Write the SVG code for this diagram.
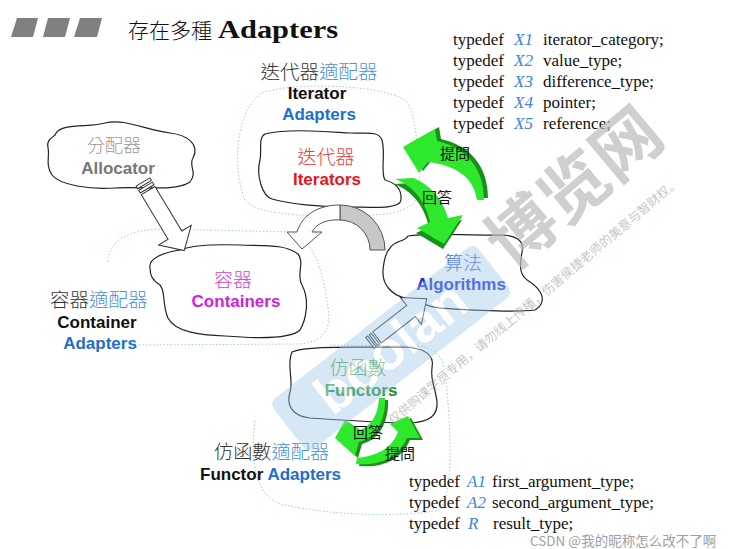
<svg xmlns="http://www.w3.org/2000/svg" width="735" height="549" viewBox="0 0 735 549">
<style>
.cloud{fill:none;stroke:#222;stroke-width:1.2}
.dot{fill:none;stroke:#9fcfcf;stroke-width:1;stroke-dasharray:1.5 2}
.cjk{font-family:"Noto Sans CJK TC","Noto Sans CJK SC",sans-serif;font-weight:300}
.en{font-family:"Liberation Sans",Arial,sans-serif;font-weight:bold;font-size:17px}
.td{font-family:"Liberation Serif","Times New Roman",serif;font-size:17px;fill:#111}
.x{font-style:italic;fill:#3a86e0}
.blk{fill:#fff;stroke:#333;stroke-width:1}
.lg{fill:#2ee82e}
.dg{fill:#1a8f1a}
.q{font-family:"Noto Sans CJK TC",sans-serif;font-size:15px;fill:#111}
.mid{text-anchor:middle}
.g1{fill:#333}
.b1{fill:#4a90d9}
.blue{fill:#1e6fcc}
</style>

<!-- title -->
<g id="title">
  <polygon points="11,37 17,18 38,18 33,37" fill="#808080"/>
  <polygon points="43,37 48,18 70,18 65,37" fill="#808080"/>
  <polygon points="74,37 80,18 102,18 97,37" fill="#808080"/>
  <text x="128" y="38" class="cjk" font-size="21" font-weight="400" fill="#111">存在多種</text>
  <text x="218" y="38" font-family="Liberation Serif,serif" font-weight="bold" font-size="26" fill="#111" textLength="120" lengthAdjust="spacingAndGlyphs">Adapters</text>
</g>

<!-- dotted adapter regions -->
<g id="regions">
  <path class="dot" d="M245 200 C232 170,235 110,262 93 C290 82,380 84,405 100 C418 115,418 160,420 185 C420 205,405 214,370 215 C320 216,260 218,245 200 Z"/>
  <path class="dot" d="M108 262 C108 240,130 229,165 229 L290 232 C312 240,320 262,326 295 C332 325,330 340,300 344 L137 345"/>
  <path class="dot" d="M330 345 L420 346 C440 350,444 360,446 380 C450 420,455 490,440 510 C400 518,330 515,285 505 C255 500,250 460,255 420"/>
</g>

<!-- nodes -->
<g id="allocator">
  <path class="cloud" d="M55 135 C60 122,90 128,105 123 C125 118,145 130,170 133 C188 135,200 145,193 158 C188 166,198 172,190 182 C175 192,140 186,115 188 C90 190,60 185,52 175 C45 165,50 155,48 148 C46 140,52 138,55 135 Z"/>
  <text x="114" y="152" class="cjk mid" font-size="18" fill="#999">分配器</text>
  <text x="118" y="174" class="en mid" fill="#777">Allocator</text>
</g>

<g id="iterator-adapters">
  <text x="319" y="79" class="cjk mid" font-size="19.5"><tspan class="g1">迭代器</tspan><tspan class="b1">適配器</tspan></text>
  <text x="317" y="99" class="en mid" fill="#111">Iterator</text>
  <text x="319" y="120" class="en mid blue">Adapters</text>
</g>

<g id="iterators">
  <path class="cloud" d="M265 134 C290 128,330 132,350 133 C365 134,378 130,382 140 C386 155,380 172,385 180 C395 183,402 188,401 200 C400 210,370 207,345 207 C320 207,290 204,272 199 C262 196,256 175,260 160 C262 150,258 138,265 134 Z"/>
  <text x="326" y="164" class="cjk mid" font-size="19" fill="#f03838">迭代器</text>
  <text x="327" y="185" class="en mid" fill="#e81515">Iterators</text>
</g>

<g id="containers">
  <path class="cloud" d="M150 268 C148 258,165 252,180 250 C190 246,210 244,240 245 C265 246,285 244,298 254 C305 262,296 275,302 285 C310 300,306 320,300 330 C290 340,250 338,225 336 C200 335,175 332,168 318 C162 305,166 292,160 285 C152 280,150 275,150 268 Z"/>
  <text x="233" y="287" class="cjk mid" font-size="19" fill="#d040d8">容器</text>
  <text x="236" y="307" class="en mid" fill="#d020e0">Containers</text>
</g>

<g id="container-adapters">
  <text x="50" y="307" class="cjk" font-size="19.5"><tspan class="g1">容器</tspan><tspan class="b1">適配器</tspan></text>
  <text x="97" y="328" class="en mid" fill="#111">Container</text>
  <text x="100" y="349" class="en mid blue">Adapters</text>
</g>

<g id="algorithms">
  <path class="cloud" d="M390 248 C395 240,405 242,408 236 C430 232,470 236,500 235 C515 235,525 240,522 252 C520 265,518 275,530 282 C542 290,548 302,535 310 C510 313,470 310,440 308 C425 307,418 300,405 298 C392 295,382 285,383 270 C384 260,386 252,390 248 Z"/>
  <text x="463" y="270" class="cjk mid" font-size="19" fill="#4060e0">算法</text>
  <text x="461" y="290" class="en mid" fill="#1a2ee0">Algorithms</text>
</g>

<g id="functors">
  <path class="cloud" d="M292 352 C310 345,360 348,400 347 C425 347,435 355,432 368 C430 380,436 390,437 402 C438 415,430 422,410 423 C380 423,340 420,310 418 C292 416,286 405,290 392 C294 380,286 365,292 352 Z"/>
  <text x="358" y="375" class="cjk mid" font-size="19" fill="#50a050">仿函數</text>
  <text x="361" y="396" class="en mid" fill="#1c8c2c">Functors</text>
</g>

<g id="functor-adapters">
  <text x="214" y="459" class="cjk" font-size="19.2"><tspan class="g1">仿函數</tspan><tspan class="b1">適配器</tspan></text>
  <text x="200" y="480" class="en" fill="#111">Functor <tspan class="blue">Adapters</tspan></text>
</g>

<g id="iterator-typedefs" class="td">
  <text x="453" y="45">typedef</text><text x="514" y="45" class="x">X1</text><text x="543" y="45">iterator_category;</text>
  <text x="453" y="66">typedef</text><text x="514" y="66" class="x">X2</text><text x="543" y="66">value_type;</text>
  <text x="453" y="87">typedef</text><text x="514" y="87" class="x">X3</text><text x="543" y="87">difference_type;</text>
  <text x="453" y="108">typedef</text><text x="514" y="108" class="x">X4</text><text x="543" y="108">pointer;</text>
  <text x="453" y="129">typedef</text><text x="514" y="129" class="x">X5</text><text x="543" y="129">reference;</text>
</g>

<g id="functor-typedefs" class="td">
  <text x="409" y="487">typedef</text><text x="467" y="487" class="x">A1</text><text x="492" y="487">first_argument_type;</text>
  <text x="409" y="508">typedef</text><text x="467" y="508" class="x">A2</text><text x="492" y="508">second_argument_type;</text>
  <text x="409" y="529">typedef</text><text x="468" y="529" class="x">R</text><text x="493" y="529">result_type;</text>
</g>

<!-- connectors -->
<g id="connectors">
  <!-- allocator -> containers -->
  <g transform="translate(143,182) rotate(59)">
    <rect class="blk" x="0" y="-8" width="3" height="16"/>
    <rect class="blk" x="5" y="-8" width="3" height="16"/>
    <polygon class="blk" points="10,-8 62,-8 62,-19 80,0 62,19 62,8 10,8"/>
  </g>
  <!-- functors -> algorithms -->
  <g transform="translate(370,343) rotate(-38)">
    <rect class="blk" x="0" y="-7" width="2.5" height="14"/>
    <rect class="blk" x="4.5" y="-7" width="2.5" height="14"/>
    <polygon class="blk" points="9,-7 52,-7 52,-17 72,0 52,17 52,7 9,7"/>
  </g>
  <!-- iterators -> containers curved arrow -->
  <path d="M385 250 A45 45 0 0 0 340 205 L340 220 A30 30 0 0 1 370 250 Z" fill="#c8c8c8" stroke="#555" stroke-width="1"/>
  <path d="M340 205 C318 205,302 215,297 232 L287 232 L302 249 L322 232 L312 232 C316 224,326 219,340 220 Z" fill="#fff" stroke="#555" stroke-width="1"/>

  <!-- green ask/answer arrows (iterators / algorithms) -->
  <path class="dg" transform="translate(4,-2)" d="M477 200 C474 180,460 166,428 162 L419 173 L403 147 L435 129 L437 141 C468 148,484 170,484 200 Z"/>
  <path class="lg" d="M477 200 C474 180,460 166,428 162 L419 173 L403 147 L435 129 L437 141 C468 148,484 170,484 200 Z"/>
  <path class="dg" transform="translate(-1,5)" d="M395 179 C412 185,425 200,430 222 L417 228 L444 244 L463 215 L448 218 C443 200,430 184,413 178 Z"/>
  <path class="lg" d="M395 179 C412 185,425 200,430 222 L417 228 L444 244 L463 215 L448 218 C443 200,430 184,413 178 Z"/>
  <text x="455" y="159" class="q mid">提問</text>
  <text x="437" y="203" class="q mid">回答</text>

  <!-- green ask/answer arrows (functors / functor adapters) -->
  <path class="dg" transform="translate(3,2)" d="M379 398 C378 415,372 425,360 430 L345 420 L335 438 L355 456 L359 442 C376 438,386 420,385 398 Z"/>
  <path class="lg" d="M379 398 C378 415,372 425,360 430 L345 420 L335 438 L355 456 L359 442 C376 438,386 420,385 398 Z"/>
  <path class="dg" transform="translate(3,2)" d="M356 464 C380 466,398 458,407 438 L420 438 L408 416 L390 424 L398 432 C392 448,378 456,357 458 Z"/>
  <path class="lg" d="M356 464 C380 466,398 458,407 438 L420 438 L408 416 L390 424 L398 432 C392 448,378 456,357 458 Z"/>
  <text x="368" y="438" class="q mid">回答</text>
  <text x="400" y="459" class="q mid">提問</text>
</g>

<!-- watermarks -->
<g id="watermark">
  <g transform="translate(395,345) rotate(-38)" opacity="0.42">
    <rect x="-135" y="-32" width="260" height="64" rx="8" fill="#9fc9e8"/>
    <text x="-5" y="18" text-anchor="middle" font-family="Liberation Sans,Arial,sans-serif" font-weight="bold" font-size="54" fill="#fff">boolan</text>
  </g>
  <text transform="translate(590,206) rotate(-40)" text-anchor="middle" font-family="Noto Sans CJK SC,sans-serif" font-weight="bold" font-size="68" fill="#bcbcbc" opacity="0.7">博览网</text>
  <text transform="translate(393,425) rotate(-40)" font-family="Noto Sans CJK SC,sans-serif" font-size="12.5" fill="#999" opacity="0.55">仅供购课学员专用，请勿线上传播，伤害侯捷老师的美意与智财权。</text>
  <text x="530" y="546" font-family="Noto Sans CJK SC,sans-serif" font-size="13.5" fill="#a0a0a0">CSDN @我的昵称怎么改不了啊</text>
</g>
</svg>
